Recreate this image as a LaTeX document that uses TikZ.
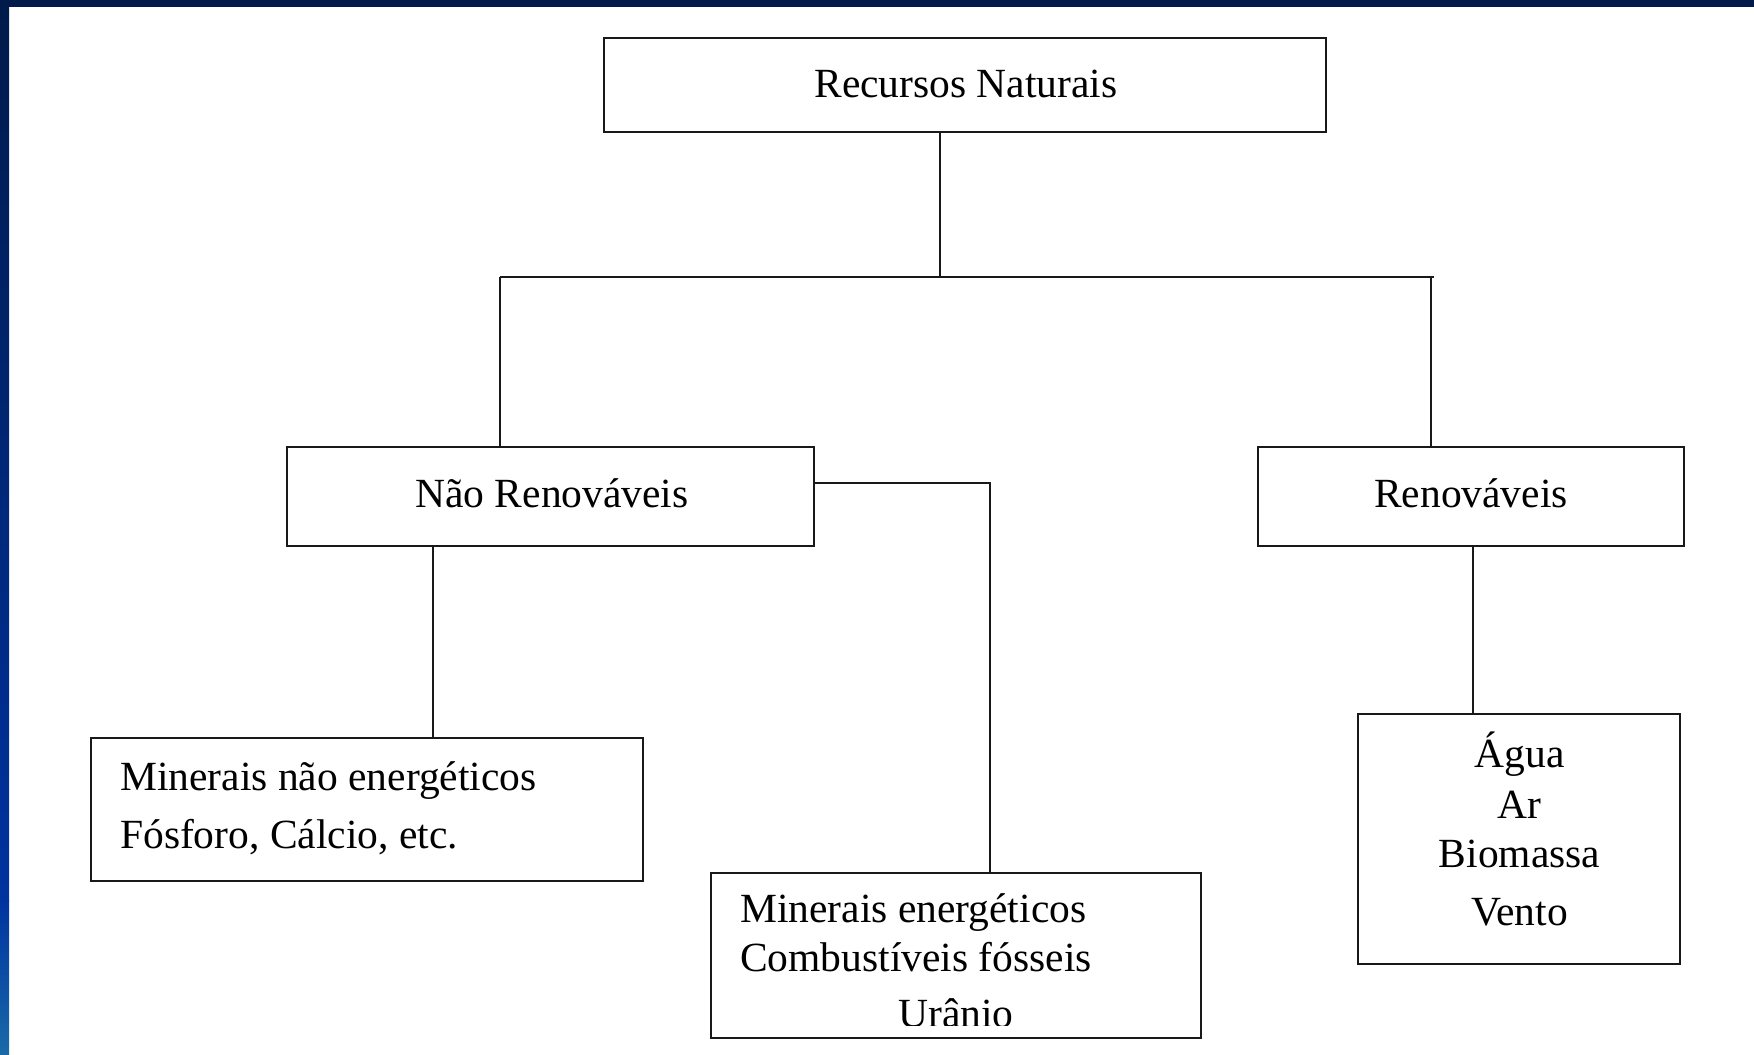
\documentclass[tikz,border=0pt]{standalone}
\usepackage{fontspec}
\setmainfont{Liberation Serif}
\definecolor{barA}{RGB}{0,26,74}
\definecolor{barB}{RGB}{0,51,160}
\definecolor{barC}{RGB}{26,106,168}
\definecolor{ink}{RGB}{25,25,25}
\tikzset{
  box/.style={draw=ink, line width=2pt, rectangle, inner sep=0pt, fill=white},
  txt/.style={inner sep=0pt, font=\fontsize{41.5}{50}\selectfont, text=black},
  conn/.style={draw=ink, line width=2pt}
}
\begin{document}
\begin{tikzpicture}[x=1pt,y=-1pt]
\useasboundingbox (0,0) rectangle (1754,1055);
\fill[white] (0,0) rectangle (1754,1055);
% frame
\fill[barA] (0,0) rectangle (1754,7);
\shade[top color=barA, bottom color=barB] (0,0) rectangle (9,900);
\shade[top color=barB, bottom color=barC] (0,900) rectangle (9,1055);

% boxes
\node[box, minimum width=722pt, minimum height=94pt] (rn) at (965,85) {};
\node[box, minimum width=527pt, minimum height=99pt] (nr) at (550.5,496.5) {};
\node[box, minimum width=426pt, minimum height=99pt] (ren) at (1471,496.5) {};
\node[box, minimum width=552pt, minimum height=143pt] (mne) at (367,809.5) {};
\node[box, minimum width=490pt, minimum height=165pt] (me) at (956,955.5) {};
\node[box, minimum width=322pt, minimum height=250pt] (agua) at (1519,839) {};

% texts
\node[txt, anchor=base] (t1) at (966,97) {Recursos Naturais};
\node[txt, anchor=base] (t2) at (552,507) {Não Renováveis};
\node[txt, anchor=base] (t3) at (1471,507) {Renováveis};
\node[txt, anchor=base west] (t4) at (120,790) {Minerais não energéticos};
\node[txt, anchor=base west] (t5) at (120,848) {Fósforo, Cálcio, etc.};
\node[txt, anchor=base west] (t6) at (740,922) {Minerais energéticos};
\node[txt, anchor=base west] (t7) at (740,971) {Combustíveis fósseis};
\begin{scope}
  \clip (712,874) rectangle (1200,1025);
  \node[txt, anchor=base] (t8) at (956,1027) {Urânio};
\end{scope}
\node[txt, anchor=base] (t9) at (1519.5,767) {Água};
\node[txt, anchor=base] (t10) at (1519.5,818) {Ar};
\node[txt, anchor=base] (t11) at (1519.5,867) {Biomassa};
\node[txt, anchor=base] (t12) at (1519.5,925) {Vento};

% connectors
\coordinate (j) at (940,277);
\coordinate (hl) at (500,277);
\coordinate (hr) at (1434,277);
\coordinate (hrv) at (1431,277);
\coordinate (k) at (990,483);
\coordinate (l) at (433,600);
\coordinate (m) at (1473,600);
\draw[conn] (j |- rn.south) -- (j);
\draw[conn] (hl) -- (hr);
\draw[conn] (hl) -- (hl |- nr.north);
\draw[conn] (hrv) -- (hrv |- ren.north);
\draw[conn] (nr.east |- k) -- (k) -- (k |- me.north);
\draw[conn] (l |- nr.south) -- (l |- mne.north);
\draw[conn] (m |- ren.south) -- (m |- agua.north);
\end{tikzpicture}
\end{document}
